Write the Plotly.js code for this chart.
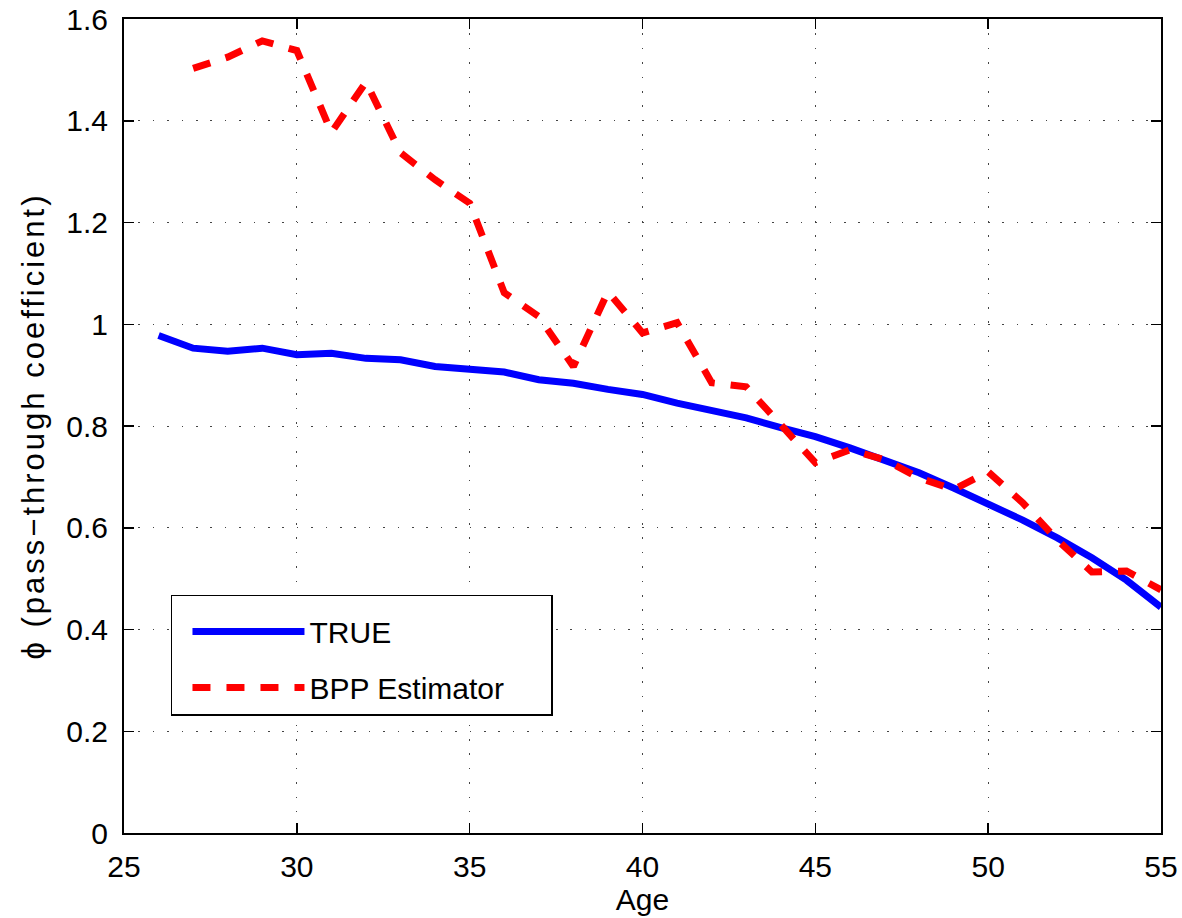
<!DOCTYPE html>
<html>
<head>
<meta charset="utf-8">
<script src="https://cdn.plot.ly/plotly-3.0.1.min.js"></script>
<style>
html,body{margin:0;padding:0;background:#fff;}
#chart{width:1182px;height:918px;}
.g-ytitle text{letter-spacing:3px;}
</style>
</head>
<body>
<div id="chart"></div>
<script>
const trueAges = [26,27,28,29,30,31,32,33,34,35,36,37,38,39,40,41,42,43,44,45,46,47,48,49,50,51,52,53,54,55];
const trueValues = [0.978,0.953,0.947,0.953,0.940,0.943,0.933,0.930,0.917,0.910,0.906,0.891,0.884,0.872,0.862,0.845,0.832,0.816,0.797,0.779,0.757,0.733,0.708,0.678,0.647,0.615,0.580,0.541,0.497,0.444];
const bppAges = [27,28,29,30,31,32,33,34,35,36,37,38,39,40,41,42,43,44,45,46,47,48,49,50,51,52,53,54,55];
const bppValues = [1.503,1.525,1.557,1.538,1.377,1.476,1.337,1.284,1.238,1.062,1.015,0.917,1.064,0.983,1.003,0.885,0.877,0.800,0.728,0.753,0.734,0.698,0.675,0.710,0.649,0.576,0.513,0.515,0.478];
const xTicks = [25,30,35,40,45,50,55];
const yTicks = [0,0.2,0.4,0.6,0.8,1,1.2,1.4,1.6];
const yTickLabels = ['0','0.2','0.4','0.6','0.8','1','1.2','1.4','1.6'];
const seriesNames = ['TRUE','BPP Estimator'];

const font = {family: '"Liberation Sans", Arial, Helvetica, sans-serif', size: 30, color: '#000'};
const nbsp = '\u00a0';

const traces = [
  {x: trueAges, y: trueValues, name: seriesNames[0], type: 'scatter', mode: 'lines',
   line: {color: '#0000ff', width: 7}, legendgroup: 'a'},
  {x: bppAges, y: bppValues, name: seriesNames[1] + nbsp.repeat(5), type: 'scatter', mode: 'lines',
   line: {color: '#ff0000', width: 7, dash: '18px,16px'}, legendgroup: 'b'}
];

const axisCommon = {
  showline: true, linecolor: '#000', linewidth: 2, mirror: 'ticks',
  ticks: 'inside', ticklen: 10, tickwidth: 1.5, tickcolor: '#000',
  showgrid: true, gridcolor: '#444', gridwidth: 1, griddash: '1.5px,12.9px',
  zeroline: false, tickfont: font
};

const layout = {
  width: 1182, height: 918,
  margin: {l: 124, r: 21, t: 19, b: 85},
  paper_bgcolor: '#fff', plot_bgcolor: '#fff',
  font: font,
  showlegend: true,
  legend: {x: 0.0453, y: 0.2924, xanchor: 'left', yanchor: 'top',
    bordercolor: '#000', borderwidth: 1.5, bgcolor: '#fff',
    font: font, itemwidth: 112, tracegroupgap: 14, indentation: 15,
    title: {text: nbsp, font: {family: font.family, size: 7, color: '#fff'}}},
  xaxis: Object.assign({}, axisCommon, {range: [25,55], tickvals: xTicks, ticktext: xTicks.map(String),
    ticklabelstandoff: 6,
    title: {text: 'Age', font: font, standoff: 6}}),
  yaxis: Object.assign({}, axisCommon, {range: [0,1.6], tickvals: yTicks, ticktext: yTickLabels,
    ticklabelstandoff: 8,
    title: {text: 'ϕ (pass−through coefficient)', font: Object.assign({}, font, {size: 31}), standoff: 12}})
};

Plotly.newPlot('chart', traces, layout, {displayModeBar: false, staticPlot: true});
</script>
</body>
</html>
